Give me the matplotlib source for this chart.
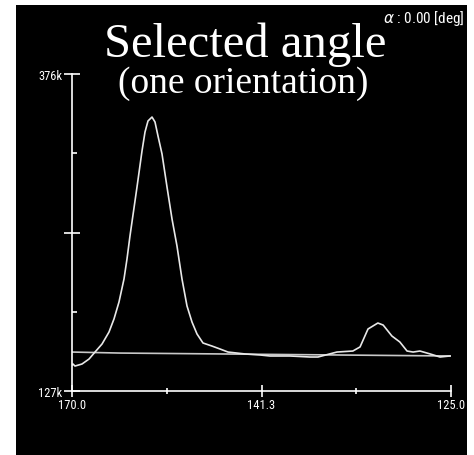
import numpy as np
import matplotlib
matplotlib.use('Agg')
import matplotlib.pyplot as plt
from matplotlib.patches import Rectangle

# scan position along the axis (percent of range, 0 = 170.0, 100 = 125.0)
scan_pos = [0.0, 0.26, 0.79, 2.64, 4.49, 6.07, 7.92, 9.76, 11.08, 12.40,
            13.72, 14.51, 15.30, 17.15, 18.47, 19.26, 20.05, 21.11,
            21.90, 22.69, 23.75, 25.07, 26.39, 27.70, 29.02, 30.34, 31.66,
            32.98, 34.56, 36.94, 39.05, 41.16, 43.54, 45.6, 49.6, 52.2, 57.5,
            62.8, 64.9, 69.9, 74.1, 76.0, 78.1, 80.7, 82.1, 84.4, 86.5, 88.4,
            90.0, 91.8, 94.5, 97.1, 99.7]
# intensity in thousands of counts
intensity = [147.4, 148.2, 146.6, 148.2, 152.1, 157.6, 163.9, 173.3, 183.6,
             196.9, 215.0, 230.7, 248.8, 287.2, 315.5, 330.4, 339.1,
             342.2, 338.3, 327.3, 313.2, 287.2, 262.1, 240.9, 215.0, 193.8,
             181.2, 171.8, 164.7, 162.3, 160.0, 157.6, 156.8, 156.1, 155.3,
             154.5, 154.5, 153.7, 153.7, 157.6, 158.4, 161.6, 175.7, 180.4,
             178.8, 170.2, 165.5, 158.4, 157.6, 158.4, 156.1, 153.7, 154.5]
# background line
bg_pos = [0.0, 12.7, 100.0]
bg_val = [157.6, 156.8, 154.5]

x_ticks = [0, 50, 100]
x_labels = ['170.0', '141.3', '125.0']
y_min, y_max = 127, 376
y_labels = ['127k', '', '376k']

W, H = 474, 456
fig = plt.figure(figsize=(W / 100, H / 100), dpi=100, facecolor='white')
fig.patches.append(Rectangle((16 / W, 0), (467 - 16) / W, (H - 6) / H,
                             transform=fig.transFigure, facecolor='black',
                             edgecolor='none', zorder=-1))

ax = fig.add_axes([72 / W, 1 - 392 / H, (451 - 72) / W, (392 - 75) / H])
ax.set_facecolor('black')
ax.plot(bg_pos, bg_val, color='#c8c8c8', lw=1.2)
ax.plot(scan_pos, intensity, color='#e8e8e8', lw=1.2)

ax.set_xlim(0, 100)
ax.set_ylim(y_min, y_max)
for s in ['top', 'right']:
    ax.spines[s].set_visible(False)
for s in ['left', 'bottom']:
    ax.spines[s].set_color('white')
    ax.spines[s].set_linewidth(1.2)

narrow = ['Roboto Condensed', 'Liberation Sans Narrow', 'DejaVu Sans']
lab_font = {'family': narrow, 'size': 9, 'stretch': 'condensed'}
ax.set_xticks(x_ticks)
ax.set_xticklabels(x_labels, fontdict=lab_font)
ax.set_xticks([25, 75], minor=True)
ax.set_yticks([y_min, (y_min + y_max) / 2, y_max])
ax.set_yticklabels(y_labels, fontdict=lab_font)
ax.set_yticks([y_min + (y_max - y_min) / 4, y_min + 3 * (y_max - y_min) / 4],
              minor=True)
ax.tick_params(axis='x', which='major', direction='inout', length=8,
               width=1.2, colors='white', pad=1)
ax.tick_params(axis='x', which='minor', direction='inout', length=4.5,
               width=1.2, colors='white')
ax.tick_params(axis='y', which='major', direction='inout', length=11.5,
               width=1.2, colors='white', pad=1)
ax.tick_params(axis='y', which='minor', direction='in', length=3.6,
               width=1.2, colors='white')

serif = ['Liberation Serif', 'DejaVu Serif']
fig.text(245 / W, 1 - 57 / H, 'Selected angle', family=serif, size=35,
         color='white', ha='center', va='baseline')
fig.text(243 / W, 1 - 93 / H, '(one orientation)', family=serif, size=27,
         color='white', ha='center', va='baseline')
fig.text(464 / W, 1 - 19 / H, r'$\alpha$ : 0.00 [deg]', family=narrow,
         stretch='condensed', size=11, color='white', ha='right',
         va='center')

fig.savefig('out.png', dpi=100, facecolor='white')
